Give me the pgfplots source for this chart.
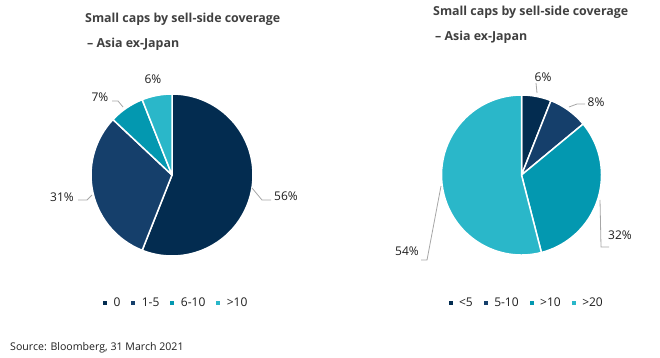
\documentclass[border=0pt]{standalone}
\usepackage{pgfplots}
\usepackage{pgfplotstable}
\pgfplotsset{compat=1.18}
\usepackage{fontspec}
\setmainfont{Open Sans}
\definecolor{cA}{HTML}{032C50}
\definecolor{cB}{HTML}{153F6B}
\definecolor{cC}{HTML}{0398B0}
\definecolor{cD}{HTML}{2AB7C9}
\definecolor{ttl}{HTML}{404040}
\definecolor{lbl}{HTML}{1E1E1E}
\definecolor{lead}{HTML}{A6A6A6}

\pgfplotstableread{
label value color
0 56 cA
1-5 31 cB
6-10 7 cC
>10 6 cD
}\leftdata
\pgfplotstableread{
label value color
<5 6 cA
5-10 8 cB
>10 32 cC
>20 54 cD
}\rightdata

\newcommand\drawpie[4]{%
  \pgfplotstablegetrowsof{#1}%
  \pgfmathtruncatemacro\lastrow{\pgfplotsretval-1}%
  \def\cumangle{90}%
  \pgfplotsforeachungrouped \i in {0,...,\lastrow}{%
    \pgfplotstablegetelem{\i}{value}\of{#1}\let\v\pgfplotsretval
    \pgfplotstablegetelem{\i}{color}\of{#1}\let\c\pgfplotsretval
    \pgfmathsetmacro\endangle{\cumangle-3.6*\v}%
    \pgfmathsetmacro\sx{#2+#4*cos(\cumangle)}%
    \pgfmathsetmacro\sy{#3+#4*sin(\cumangle)}%
    \edef\temp{\noexpand\filldraw[fill=\c,draw=white,line width=1.5bp,line join=round] (axis cs:#2,#3) -- (axis cs:\sx,\sy) arc[start angle=\cumangle,end angle=\endangle,radius=#4bp] -- cycle;}%
    \temp
    \let\cumangle\endangle
  }%
}
\newcommand\lgap{\hspace{4.5bp}}

\pgfplotsset{
  canvas/.style={
    scale only axis, x=1bp, y=1bp,
    xmin=0, xmax=660, ymin=0, ymax=357,
    hide axis, clip=false,
    legend columns=-1,
    legend image code/.code={\fill[##1, draw=none] (0bp,-2bp) rectangle (4bp,2bp);},
    legend style={draw=none, fill=none, anchor=center, text=lbl,
      font=\fontsize{12bp}{14bp}\selectfont,
      /tikz/every even column/.append style={column sep=9bp}},
  },
}
\tikzset{
  plab/.style={text=lbl, font=\fontsize{12bp}{14bp}\selectfont, inner sep=0pt},
  ttlf/.style={text=ttl, font=\fontsize{12.4bp}{15bp}\selectfont\bfseries, inner sep=0pt, anchor=base west},
}

\begin{document}
\begin{tikzpicture}
% left chart
\begin{axis}[canvas, legend style={at={(0.267,0.151)}}]
  \path (axis cs:0,0) rectangle (axis cs:660,357);
  \addlegendimage{fill=cA}\addlegendentry{\lgap 0}
  \addlegendimage{fill=cB}\addlegendentry{\lgap 1-5}
  \addlegendimage{fill=cC}\addlegendentry{\lgap 6-10}
  \addlegendimage{fill=cD}\addlegendentry{\lgap >10}
  \drawpie{\leftdata}{172}{182}{81}
  \node[ttlf] at (axis cs:85,335) {Small caps by sell-side coverage};
  \node[ttlf] at (axis cs:87,310) {– Asia ex-Japan};
  \draw[lead, line width=0.8bp] (axis cs:112,256) -- (axis cs:118,256) -- (axis cs:123,250);
  \draw[lead, line width=0.8bp] (axis cs:78,157) -- (axis cs:87,157) -- (axis cs:92,162);
  \draw[lead, line width=0.8bp] (axis cs:252,169) -- (axis cs:262,157) -- (axis cs:271,157);
  \node[plab] at (axis cs:153,278) {6\%};
  \node[plab] at (axis cs:100,260) {7\%};
  \node[plab] at (axis cs:62,160) {31\%};
  \node[plab] at (axis cs:286,161) {56\%};
  \node[text=lbl, font=\fontsize{10.6bp}{12bp}\selectfont, inner sep=0pt, anchor=base west] at (axis cs:10,7) {Source: Bloomberg, 31 March 2021};
\end{axis}
% right chart
\begin{axis}[canvas, legend style={at={(0.798,0.151)}}]
  \addlegendimage{fill=cA}\addlegendentry{\lgap <5}
  \addlegendimage{fill=cB}\addlegendentry{\lgap 5-10}
  \addlegendimage{fill=cC}\addlegendentry{\lgap >10}
  \addlegendimage{fill=cD}\addlegendentry{\lgap >20}
  \drawpie{\rightdata}{521.5}{182}{80}
  \node[ttlf] at (axis cs:433,342) {Small caps by sell-side coverage};
  \node[ttlf] at (axis cs:435,317) {– Asia ex-Japan};
  \draw[lead, line width=0.8bp] (axis cs:536,274) -- (axis cs:537,264);
  \draw[lead, line width=0.8bp] (axis cs:569,250) -- (axis cs:577,253) -- (axis cs:585,253);
  \draw[lead, line width=0.8bp] (axis cs:600,157) -- (axis cs:601,110) -- (axis cs:609,110);
  \draw[lead, line width=0.8bp] (axis cs:421,97) -- (axis cs:427,97) -- (axis cs:441,171);
  \node[plab] at (axis cs:543,280) {6\%};
  \node[plab] at (axis cs:596,255) {8\%};
  \node[plab] at (axis cs:620,122) {32\%};
  \node[plab] at (axis cs:407,106) {54\%};
\end{axis}
\end{tikzpicture}
\end{document}
